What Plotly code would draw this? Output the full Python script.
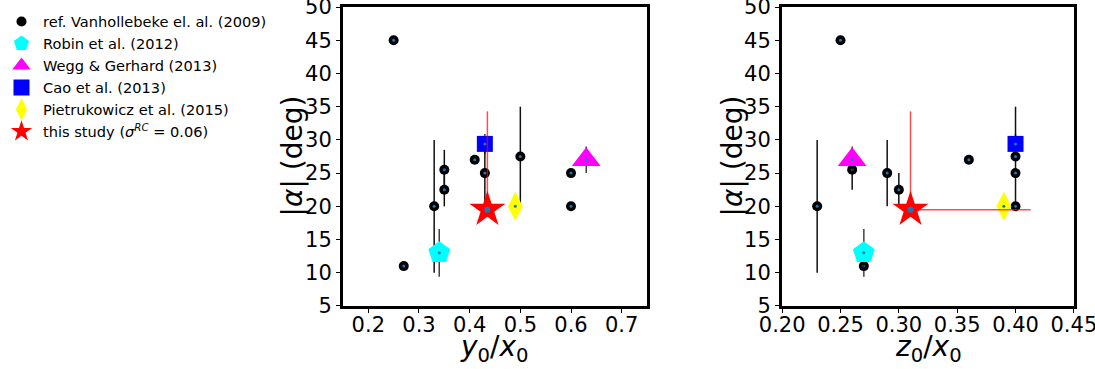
import plotly.graph_objects as go

# Reference sample: bar angle vs. axis ratios
ref_y0x0 = [0.25, 0.27, 0.33, 0.35, 0.35, 0.41, 0.43, 0.50, 0.60, 0.60]
ref_z0x0 = [0.25, 0.27, 0.23, 0.26, 0.30, 0.36, 0.29, 0.40, 0.40, 0.40]
ref_alpha = [45.0, 11.0, 20.0, 25.5, 22.5, 27.0, 25.0, 27.5, 25.0, 20.0]
ref_alpha_err = [0.0, 0.0, 10.0, 3.0, 2.5, 0.0, 5.0, 7.5, 0.0, 0.0]

# Literature models: (label, y0/x0, z0/x0, |alpha|, error)
lit_names = ["Robin et al. (2012)", "Wegg & Gerhard (2013)",
             "Cao et al. (2013)", "Pietrukowicz et al. (2015)"]
lit_y0x0 = [0.34, 0.63, 0.43, 0.49]
lit_z0x0 = [0.27, 0.26, 0.40, 0.39]
lit_alpha = [13.0, 27.0, 29.4, 20.0]
lit_alpha_err = [3.6, 2.0, 1.5, 0.0]
lit_symbols = ["pentagon", "triangle-up", "square", "diamond-tall"]
lit_colors = ["#00ffff", "#ff00ff", "#0000ff", "#ffff00"]
lit_sizes = [23, 25, 16, 21]

# This study
this_y0x0 = [0.435]
this_z0x0 = [0.31]
this_alpha = [19.5]
this_alpha_up = [14.8]
this_alpha_down = [0.3]
this_z0x0_up = [0.103]
this_z0x0_down = [0.0]

y_ticks = [5, 10, 15, 20, 25, 30, 35, 40, 45, 50]
x1_ticks = [0.2, 0.3, 0.4, 0.5, 0.6, 0.7]
x2_ticks = [0.20, 0.25, 0.30, 0.35, 0.40, 0.45]

FONT = "DejaVu Sans"
fig = go.Figure()

panels = [("x", "y", ref_y0x0, lit_y0x0, this_y0x0, [0.0], [0.0]),
          ("x2", "y2", ref_z0x0, lit_z0x0, this_z0x0, this_z0x0_up, this_z0x0_down)]

for i, (xa, ya, rx, lx, tx, txu, txd) in enumerate(panels):
    first = i == 0
    # reference points with error bars
    fig.add_trace(go.Scatter(
        x=rx, y=ref_alpha, xaxis=xa, yaxis=ya, mode="markers",
        name="ref. Vanhollebeke el. al. (2009)", showlegend=first,
        marker=dict(color="black", size=10),
        error_y=dict(type="data", array=ref_alpha_err, color="#111111",
                     thickness=1.5, width=0),
    ))
    fig.add_trace(go.Scatter(
        x=rx, y=ref_alpha, xaxis=xa, yaxis=ya, mode="markers", showlegend=False,
        hoverinfo="skip", marker=dict(color="#1f77b4", size=3),
    ))
    # literature models
    for j in range(len(lit_names)):
        fig.add_trace(go.Scatter(
            x=[lx[j]], y=[lit_alpha[j]], xaxis=xa, yaxis=ya, mode="markers",
            name=lit_names[j], showlegend=first,
            marker=dict(color=lit_colors[j], size=lit_sizes[j], symbol=lit_symbols[j]),
            error_y=dict(type="data", array=[lit_alpha_err[j]],
                         color="rgba(0,0,0,0.75)", thickness=1.5, width=0),
        ))
        fig.add_trace(go.Scatter(
            x=[lx[j]], y=[lit_alpha[j]], xaxis=xa, yaxis=ya, mode="markers",
            showlegend=False, hoverinfo="skip",
            marker=dict(color="#1f77b4", size=3),
        ))
    # this study
    fig.add_trace(go.Scatter(
        x=tx, y=this_alpha, xaxis=xa, yaxis=ya, mode="markers",
        name="this study (<i>σ</i><sup><i>RC</i></sup> = 0.06)", showlegend=first,
        marker=dict(color="#ff0000", size=27, symbol="star"),
        error_y=dict(type="data", symmetric=False, array=this_alpha_up,
                     arrayminus=this_alpha_down, color="rgba(255,0,0,0.7)",
                     thickness=1.5, width=0),
        error_x=dict(type="data", symmetric=False, array=txu, arrayminus=txd,
                     color="rgba(255,0,0,0.7)", thickness=1.5, width=0),
    ))
    fig.add_trace(go.Scatter(
        x=tx, y=this_alpha, xaxis=xa, yaxis=ya, mode="markers", showlegend=False,
        hoverinfo="skip", marker=dict(color="#1f77b4", size=6),
    ))

axis_common = dict(showline=True, linewidth=3, linecolor="black", mirror=True,
                   showgrid=False, zeroline=False, ticks="outside", ticklen=4,
                   tickwidth=1, tickcolor="black", automargin=False,
                   ticklabeloverflow="allow",
                   tickfont=dict(family=FONT, size=21, color="black"))

fig.update_layout(
    width=1095, height=369,
    margin=dict(l=0, r=0, t=0, b=0),
    paper_bgcolor="white", plot_bgcolor="white",
    font=dict(family=FONT, color="black"),
    xaxis=dict(domain=[0.3132, 0.5909], range=[0.15, 0.75],
               tickvals=x1_ticks, tickformat=".1f", ticklabelstandoff=-6,
               **axis_common),
    yaxis=dict(domain=[0.1707, 0.981], range=[4.99, 50.01], anchor="x",
               tickvals=y_ticks, **axis_common),
    xaxis2=dict(domain=[0.7142, 0.9808], range=[0.1999, 0.4501], anchor="y2",
                tickvals=x2_ticks, tickformat=".2f", ticklabelstandoff=-6,
                **axis_common),
    yaxis2=dict(domain=[0.1707, 0.981], range=[4.99, 50.01], anchor="x2",
                tickvals=y_ticks, **axis_common),
    legend=dict(x=0.0, y=0.985, xanchor="left", yanchor="top",
                bgcolor="rgba(255,255,255,0)", borderwidth=0,
                font=dict(family=FONT, size=14.6, color="black"),
                itemsizing="trace", itemwidth=33, tracegroupgap=0),
    showlegend=True,
)

# Axis titles
title_font = dict(family=FONT, size=28, color="black")
x_titles = [("x domain", "<i>y</i><sub>0</sub>/<i>x</i><sub>0</sub>"),
            ("x2 domain", "<i>z</i><sub>0</sub>/<i>x</i><sub>0</sub>")]
for xref, text in x_titles:
    fig.add_annotation(text=text, xref=xref, yref="paper", x=0.5, y=0.055,
                       xanchor="center", yanchor="middle", showarrow=False,
                       font=title_font)
for xpos in [0.2667, 0.6685]:
    fig.add_annotation(text="|<i>α</i>| (deg)", xref="paper", yref="paper",
                       x=xpos, y=0.5759, xanchor="center", yanchor="middle",
                       textangle=-90, showarrow=False, font=title_font)

fig.write_html("out.html")
